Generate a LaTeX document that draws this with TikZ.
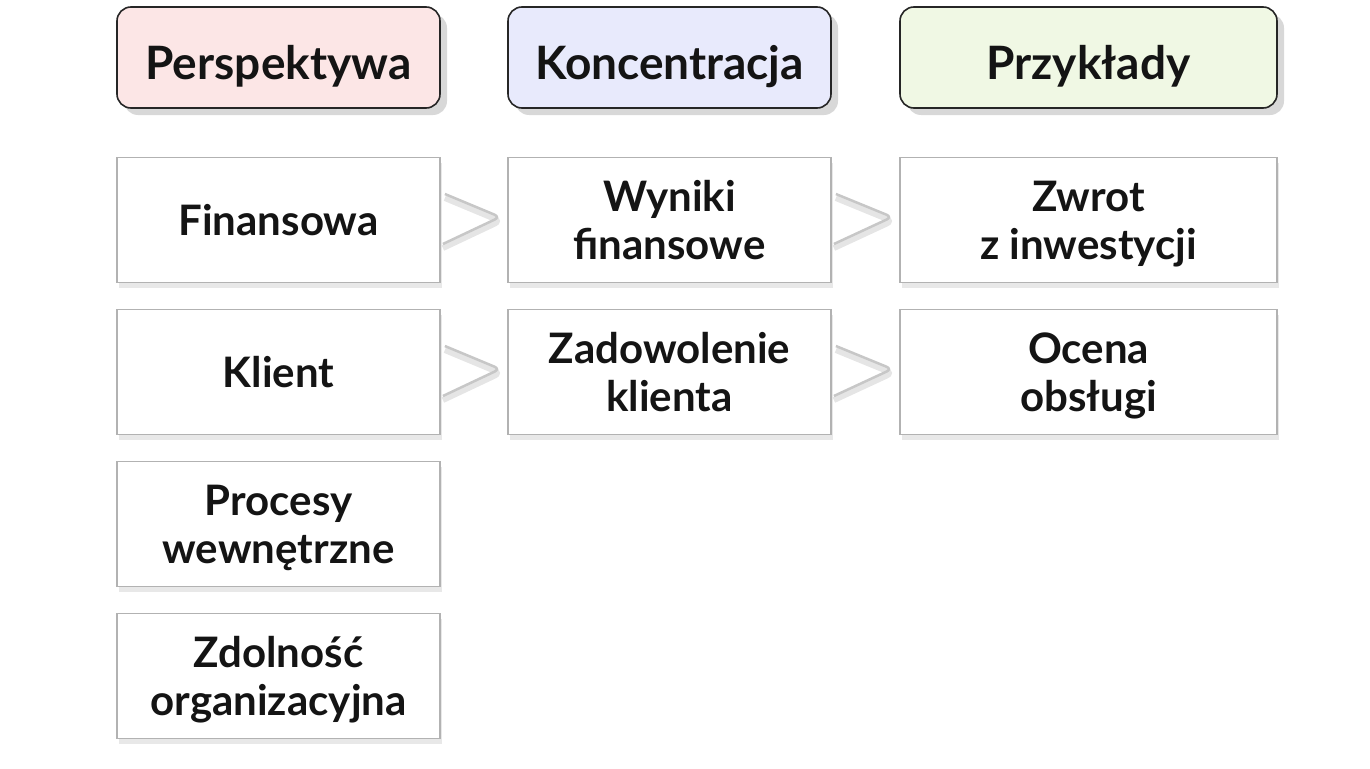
\documentclass[tikz,border=0pt]{standalone}
\usepackage{fontspec}
\setmainfont{Lato}
\usetikzlibrary{
    shadows,
}
\definecolor{headred}{RGB}{252,230,230}
\definecolor{headblue}{RGB}{232,234,252}
\definecolor{headgreen}{RGB}{240,248,228}

\begin{document}
\begin{tikzpicture}[x=1pt, y=-1pt, node distance=152pt, text=black!92,
    head/.style = {draw=black!85, line width=1.6pt, rounded corners=14pt,
        minimum width=323pt, minimum height=101pt, text height=45pt, text depth=0pt,
        font=\fontsize{46}{50}\selectfont\bfseries,
        drop shadow={shadow xshift=7pt, shadow yshift=-7pt, fill=black!30}},
    box/.style = {draw=black!30, line width=1.8pt, fill=white, align=center,
        minimum width=323pt, minimum height=125pt, text height=31pt, text depth=0pt,
        font=\fontsize{42}{48}\selectfont\bfseries,
        drop shadow={shadow xshift=2pt, shadow yshift=-5pt, fill=black!18}},
    two/.style = {text height=79pt},
    link/.style = {draw=black!22, line width=2.5pt, rounded corners=6pt,
        preaction={draw=black!10, line width=6pt, transform canvas={yshift=-4pt}}}]
    \useasboundingbox (0,0) rectangle (1370,768);
    % headers
    \node[head, fill=headred] (persp) at (278.5,57.5) {Perspektywa};
    \node[head, fill=headblue] (konc) at (669.5,57.5) {Koncentracja};
    \node[head, fill=headgreen, minimum width=377pt] (przyk) at (1088.5,57.5) {Przykłady};
    % perspektywy
    \node[box] (fin) at (278.5,220) {Finansowa};
    \node[box] (kli) [below of=fin] {Klient};
    \node[box, two] (pro) [below of=kli] {Procesy\\wewnętrzne};
    \node[box, two] (zdo) [below of=pro] {Zdolność\\organizacyjna};
    % koncentracja
    \node[box, two] (wyn) at (669.5,220) {Wyniki\\finansowe};
    \node[box, two] (zad) [below of=wyn] {Zadowolenie\\klienta};
    % przyklady
    \node[box, two, minimum width=377pt] (zwr) at (1088.5,220) {Zwrot\\z inwestycji};
    \node[box, two, minimum width=377pt] (oce) [below of=zwr] {Ocena\\obsługi};
    % strzalki
    \foreach \a/\b in {fin/wyn, kli/zad, wyn/zwr, zad/oce}
        \draw[link] ([xshift=4pt,yshift=26pt]\a.east) -- ([xshift=-7pt,yshift=3pt]\b.west)
            -- ([xshift=2pt,yshift=-24pt]\a.east);
\end{tikzpicture}
\end{document}
